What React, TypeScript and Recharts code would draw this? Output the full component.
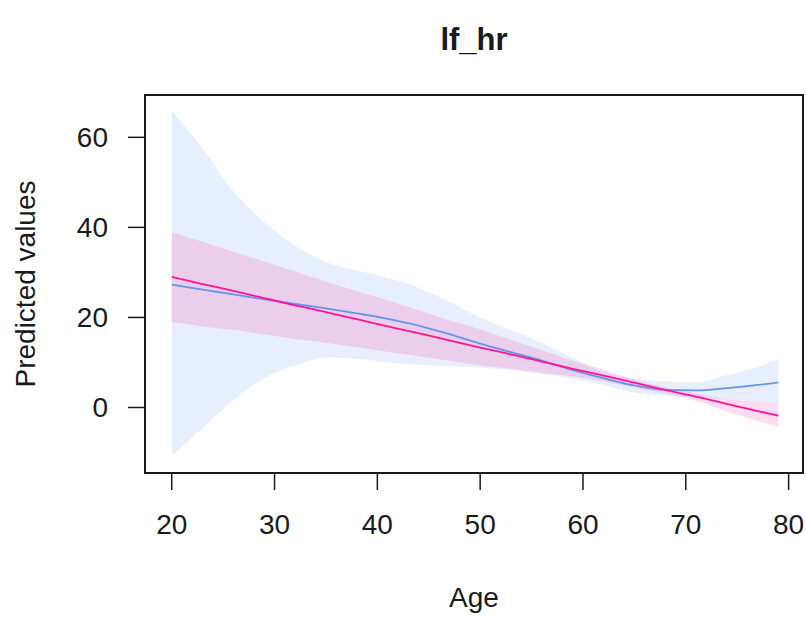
import React from "react";
import {
  Area,
  ComposedChart,
  Line,
  ReferenceArea,
  XAxis,
  YAxis,
} from "recharts";

// Age grid the curves were read at
const ages = [20, 23, 26, 29, 32, 35, 38, 41, 44, 47, 50, 53, 56, 59, 62, 65, 68, 71, 74, 77, 79];

// Spline fit (blue) and its confidence band
const splineFit = [27.3, 26.2, 25.1, 24.0, 23.0, 22.0, 20.9, 19.7, 18.2, 16.3, 14.2, 12.3, 10.4, 8.3, 6.5, 4.9, 3.9, 3.8, 4.3, 5.0, 5.6];
const splineLow = [-10.7, -4.6, 1.6, 6.5, 9.3, 11.1, 10.8, 10.0, 9.5, 9.2, 8.8, 8.3, 7.4, 6.4, 5.0, 3.3, 2.6, 2.3, 1.9, 1.3, 0.8];
const splineHigh = [65.8, 57.6, 48.0, 41.2, 36.0, 32.3, 30.4, 28.8, 26.6, 23.5, 20.0, 17.2, 14.3, 11.0, 7.8, 6.3, 5.8, 5.6, 7.2, 9.0, 10.8];

// Linear fit (pink) and its confidence band
const linearFit = [29.0, 27.4, 25.9, 24.3, 22.7, 21.2, 19.6, 18.0, 16.5, 14.9, 13.3, 11.8, 10.2, 8.6, 7.1, 5.5, 3.9, 2.4, 0.8, -0.8, -1.8];
const linearLow = [19.0, 18.0, 17.2, 16.2, 15.2, 14.4, 13.4, 12.4, 11.4, 10.4, 9.4, 8.6, 7.7, 6.9, 5.8, 4.4, 3.1, 1.5, -0.9, -3.0, -4.4];
const linearHigh = [39.0, 36.8, 34.6, 32.4, 30.2, 28.0, 25.8, 23.8, 21.6, 19.4, 17.4, 15.0, 12.7, 10.4, 8.4, 6.2, 4.5, 3.1, 1.9, 1.3, 0.9];

const xTicks = [20, 30, 40, 50, 60, 70, 80];
const yTicks = [0, 20, 40, 60];

const X_DOMAIN: [number, number] = [17.4, 81.4];
const Y_DOMAIN: [number, number] = [-14.55, 69.4];

const BLUE = "#6495ED";
const PINK = "#FF1493";
const INK = "#1a1a1a";
const FONT = "Liberation Sans, Arial, sans-serif";

const rows = ages.map((age, i) => ({
  age,
  splineFit: splineFit[i],
  splineBand: [splineLow[i], splineHigh[i]],
  linearFit: linearFit[i],
  linearBand: [linearLow[i], linearHigh[i]],
}));

const tickStyle = { fontSize: 28, fill: INK, fontFamily: FONT };

export default function App() {
  return (
    <div
      style={{
        position: "absolute",
        left: 0,
        top: 0,
        width: 806,
        height: 618,
        background: "#fff",
        fontFamily: FONT,
        color: INK,
      }}
    >
      <div
        style={{
          position: "absolute",
          left: 0,
          width: 948,
          top: 21,
          textAlign: "center",
          fontWeight: "bold",
          fontSize: 31,
          lineHeight: "38px",
        }}
      >
        lf_hr
      </div>
      <div
        style={{
          position: "absolute",
          left: 0,
          width: 948,
          top: 581,
          textAlign: "center",
          fontSize: 28,
          lineHeight: "34px",
        }}
      >
        Age
      </div>
      <div
        style={{
          position: "absolute",
          left: 26,
          top: 284,
          transform: "translate(-50%, -50%) rotate(-90deg)",
          whiteSpace: "nowrap",
          fontSize: 28,
          lineHeight: "34px",
        }}
      >
        Predicted values
      </div>
      <ComposedChart
        width={806}
        height={618}
        data={rows}
        margin={{ top: 95, right: 3, bottom: 0, left: 0 }}
      >
        <XAxis
          type="number"
          dataKey="age"
          domain={X_DOMAIN}
          ticks={xTicks}
          allowDataOverflow
          height={145}
          axisLine={false}
          tickSize={17}
          tickMargin={24}
          tickLine={{ stroke: INK, strokeWidth: 1.5 }}
          tick={tickStyle}
        />
        <YAxis
          type="number"
          domain={Y_DOMAIN}
          ticks={yTicks}
          allowDataOverflow
          width={145}
          axisLine={false}
          tickSize={17}
          tickMargin={20}
          tickLine={{ stroke: INK, strokeWidth: 1.5 }}
          tick={tickStyle}
        />
        <Area
          type="monotone"
          dataKey="splineBand"
          stroke="none"
          fill={BLUE}
          fillOpacity={0.15}
          isAnimationActive={false}
          activeDot={false}
        />
        <Area
          type="monotone"
          dataKey="linearBand"
          stroke="none"
          fill={PINK}
          fillOpacity={0.15}
          isAnimationActive={false}
          activeDot={false}
        />
        <Line
          type="monotone"
          dataKey="splineFit"
          stroke={BLUE}
          strokeWidth={1.8}
          dot={false}
          isAnimationActive={false}
        />
        <Line
          type="monotone"
          dataKey="linearFit"
          stroke={PINK}
          strokeWidth={1.8}
          dot={false}
          isAnimationActive={false}
        />
        <ReferenceArea
          x1={X_DOMAIN[0]}
          x2={X_DOMAIN[1]}
          y1={Y_DOMAIN[0]}
          y2={Y_DOMAIN[1]}
          fill="none"
          stroke={INK}
          strokeWidth={2}
          ifOverflow="visible"
        />
      </ComposedChart>
    </div>
  );
}
